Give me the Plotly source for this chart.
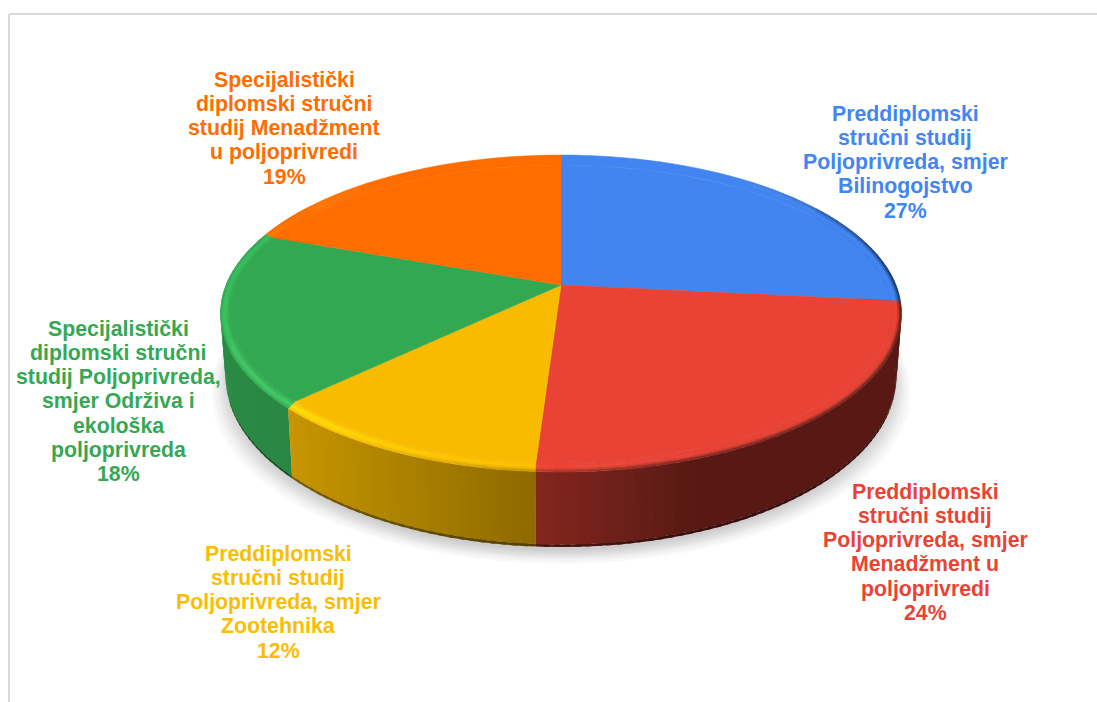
import numpy as np
import plotly.graph_objects as go
from collections import OrderedDict

# ---------- data ----------
categories = [
    "Preddiplomski stručni studij Poljoprivreda, smjer Bilinogojstvo",
    "Preddiplomski stručni studij Poljoprivreda, smjer Menadžment u poljoprivredi",
    "Preddiplomski stručni studij Poljoprivreda, smjer Zootehnika",
    "Specijalistički diplomski stručni studij Poljoprivreda, smjer Održiva i ekološka poljoprivreda",
    "Specijalistički diplomski stručni studij Menadžment u poljoprivredi",
]
shares = [26.7, 24.3, 11.6, 18.1, 19.3]
label_lines = [
    ["Preddiplomski", "stručni studij", "Poljoprivreda, smjer", "Bilinogojstvo"],
    ["Preddiplomski", "stručni studij", "Poljoprivreda, smjer", "Menadžment u", "poljoprivredi"],
    ["Preddiplomski", "stručni studij", "Poljoprivreda, smjer", "Zootehnika"],
    ["Specijalistički", "diplomski stručni", "studij Poljoprivreda,", "smjer Održiva i", "ekološka", "poljoprivreda"],
    ["Specijalistički", "diplomski stručni", "studij Menadžment", "u poljoprivredi"],
]
colors = [(66, 133, 240), (232, 67, 53), (248, 187, 0), (51, 168, 83), (255, 109, 1)]
text_colors = ["#4285F4", "#EA4335", "#FBBC04", "#34A853", "#FF6D01"]

# ---------- layout of the drawing (pixel-based axes) ----------
W, H = 1097, 702
CX, CY, A, B, K = 561.0, 285.0, 335.0, 153.4, 0.18
label_pos = [(905, 113.5), (925, 491.5), (278, 553.5), (118, 328.5), (284, 79.5)]
LINE_H = 24.3


def project(theta, d=0.0, z=0.0):
    """Rim position (clockwise from 12 o'clock), d pixels inside the rim, z = depth down the wall."""
    X, Y = np.sin(theta), np.cos(theta)
    s = 1.0 / (1.0 + K * Y)
    x, y = A * X * s, -B * Y * s
    x, y = x - d * X, y + d * Y
    return CX + x * (1 - 0.015 * z), CY + y + z * (60.6 + 0.077 * y)


def wall_factor(x):
    return float(np.interp(x, [220, 290, 535, 690, 901], [0.83, 0.80, 0.57, 0.38, 0.38]))


def scale(c, f):
    return tuple(min(255, max(0, v * f)) for v in c)


def mix(a, b, t):
    return tuple(p * (1 - t) + q * t for p, q in zip(a, b))


def css(c):
    return "rgb(%d,%d,%d)" % tuple(int(round(v)) for v in c)


def add_fill(fig, xs, ys, col, lw=0.0):
    fig.add_trace(go.Scatter(x=xs, y=ys, mode="lines", fill="toself", fillcolor=col,
                             line=dict(color=col, width=lw), hoverinfo="skip", showlegend=False))


fig = go.Figure()

# soft shadow beneath the disc
th = np.linspace(0, 2 * np.pi, 181)
for grow in [18, 15, 12, 10, 8, 6, 4, 2, 0]:
    sx, sy = project(th, 0.0, 1.0)
    sx = CX + (sx - CX) * (1 + (grow - 4) / 335)
    sy = sy + 3 + grow * 0.75
    add_fill(fig, sx, sy, "rgba(80,80,80,0.035)")

# slice boundaries derived from the values
bounds = 2 * np.pi * np.concatenate([[0], np.cumsum(shares)]) / np.sum(shares)
STEP = np.radians(1.5)
OVER = np.radians(0.4)

# side wall, painted back to front
slivers = []
for i, c in enumerate(colors):
    n = max(2, int((bounds[i + 1] - bounds[i]) / STEP))
    edges = np.linspace(bounds[i], bounds[i + 1], n + 1)
    for a0, a1 in zip(edges[:-1], edges[1:]):
        if np.cos((a0 + a1) / 2) < 0.55:
            slivers.append((np.cos((a0 + a1) / 2), a0, a1, c, bounds[i], bounds[i + 1]))
slivers.sort(key=lambda s: -s[0])
for _, a0, a1, c, lo, hi in slivers:
    xm, _y = project((a0 + a1) / 2)
    f = wall_factor(xm)
    t = np.linspace(max(lo, a0 - OVER), min(hi, a1 + OVER), 3)
    xu, yu = project(t)
    xl, yl = project(t, 0, 0.965)
    xb, yb = project(t, 0, 1.0)
    add_fill(fig, list(xu) + list(xl[::-1]), list(yu) + list(yl[::-1]), css(scale(c, f)))
    add_fill(fig, list(xl) + list(xb[::-1]), list(yl) + list(yb[::-1]), css(scale(c, f * 0.6)))

# flat top of each slice
DMAX = 10.0
for i, c in enumerate(colors):
    t = np.linspace(bounds[i], bounds[i + 1], 80)
    x, y = project(t, DMAX)
    add_fill(fig, [CX] + list(x), [CY] + list(y), css(c), 0.6)

# bevelled rim (grouped by colour so the file stays light)
polys = OrderedDict()
ring_edges = [10, 8, 6, 4, 2, 0]
bump = [0.15, 0.5, 1.0, 0.8, 0.2]
edge = [0.0, 0.0, 0.0, 0.3, 0.9]
for i, c in enumerate(colors):
    n = max(2, int((bounds[i + 1] - bounds[i]) / np.radians(2.5)))
    edges = np.linspace(bounds[i], bounds[i + 1], n + 1)
    for a0, a1 in zip(edges[:-1], edges[1:]):
        deg = np.degrees((a0 + a1) / 2)
        glow = float(np.interp(deg, [160, 195, 225, 290, 320], [0, 0.25, 1, 0.7, 0]))
        dark = float(np.interp(deg, [40, 85, 170, 200, 215], [0, 0.9, 0.7, 0.2, 0]))
        xm, _y = project((a0 + a1) / 2)
        wall = scale(c, wall_factor(xm))
        for j in range(5):
            col = scale(c, 1 + 0.2 * glow * bump[j])
            col = mix(col, wall, dark * edge[j])
            xa, ya = project(a0, ring_edges[j])
            xb, yb = project(a1, ring_edges[j])
            xc, yc = project(a1, ring_edges[j + 1])
            xd, yd = project(a0, ring_edges[j + 1])
            px, py = polys.setdefault(css(col), ([], []))
            px.extend([xa, xb, xc, xd, xa, None])
            py.extend([ya, yb, yc, yd, ya, None])
for col, (px, py) in polys.items():
    add_fill(fig, px, py, col, 0.5)

# labels
for lines, share, colr, (lx, ly) in zip(label_lines, shares, text_colors, label_pos):
    for n, txt in enumerate(lines + [f"{round(share)}%"]):
        fig.add_annotation(x=lx, y=ly + n * LINE_H, text=txt, showarrow=False,
                           xanchor="center", yanchor="middle",
                           font=dict(family="Liberation Sans", size=21.3, color=colr, weight="bold"))

# chart frame (left and top only are in view)
frame = dict(type="line", line=dict(color="#D9D9D9", width=2), xref="x", yref="y")
fig.add_shape(x0=9, x1=9, y0=14, y1=H, **frame)
fig.add_shape(x0=9, x1=W, y0=14, y1=14, **frame)

fig.update_layout(
    width=W, height=H, margin=dict(l=0, r=0, t=0, b=0),
    paper_bgcolor="white", plot_bgcolor="white", showlegend=False,
    xaxis=dict(range=[0, W], visible=False, fixedrange=True),
    yaxis=dict(range=[H, 0], visible=False, fixedrange=True),
)
fig.write_html("out.html", config={"displayModeBar": False},
               post_script="document.body.style.margin='0';")
